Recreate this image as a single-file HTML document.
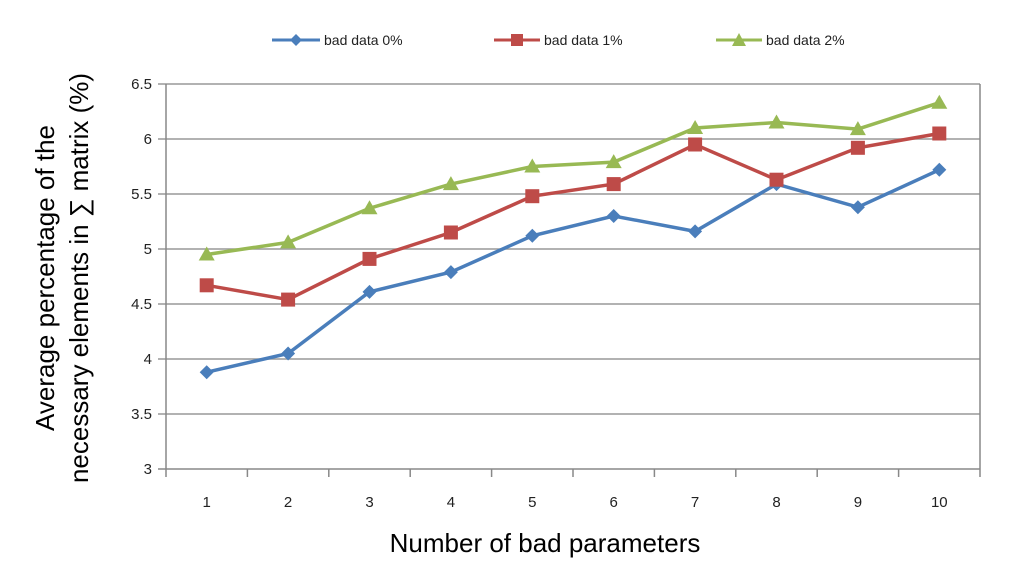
<!DOCTYPE html>
<html><head><meta charset="utf-8"><style>
body{margin:0;background:#fff;width:1024px;height:576px;overflow:hidden}
svg{font-family:"Liberation Sans",sans-serif}
</style></head><body>
<svg id="chart" width="1024" height="576">
<g id="grid"></g><g id="series"></g>
<g>
 <g><line x1="272" y1="40" x2="320" y2="40" stroke="#4a7ebb" stroke-width="3"/><path d="M296 34 L302 40 L296 46 L290 40Z" fill="#4a7ebb"/><text x="324" y="45" font-size="14" fill="#222">bad data 0%</text></g>
 <g><line x1="494" y1="40" x2="540" y2="40" stroke="#be4b48" stroke-width="3"/><rect x="511" y="34" width="12" height="12" fill="#be4b48"/><text x="544" y="45" font-size="14" fill="#222">bad data 1%</text></g>
 <g><line x1="716" y1="40" x2="762" y2="40" stroke="#98b954" stroke-width="3"/><path d="M739 33 L746 46 L732 46Z" fill="#98b954"/><text x="766" y="45" font-size="14" fill="#222">bad data 2%</text></g>
</g>
<text x="545" y="552" font-size="26" text-anchor="middle" fill="#000">Number of bad parameters</text>
<text transform="translate(54,278) rotate(-90)" font-size="26" text-anchor="middle" fill="#000"><tspan x="0" dy="0">Average percentage of the</tspan><tspan x="0" dy="34">necessary elements in ∑ matrix (%)</tspan></text>
</svg>
<script>
const categories=["1","2","3","4","5","6","7","8","9","10"];
const bad0=[3.88,4.05,4.61,4.79,5.12,5.30,5.16,5.59,5.38,5.72];
const bad1=[4.67,4.54,4.91,5.15,5.48,5.59,5.95,5.63,5.92,6.05];
const bad2=[4.95,5.06,5.37,5.59,5.75,5.79,6.10,6.15,6.09,6.33];
const yTicks=[3,3.5,4,4.5,5,5.5,6,6.5];
const yTickLabels=["3","3.5","4","4.5","5","5.5","6","6.5"];
const NS="http://www.w3.org/2000/svg";
const L=166,R=980,T=84,B=469,ymin=3,ymax=6.5;
const bw=(R-L)/categories.length;
const xs=i=>L+bw*(i+0.5);
const ys=v=>B-(v-ymin)/(ymax-ymin)*(B-T);
function mk(t,a,p){const e=document.createElementNS(NS,t);for(const k in a)e.setAttribute(k,a[k]);p.appendChild(e);return e;}
const g=document.getElementById('grid');
yTicks.forEach((v,i)=>{
 const y=ys(v);
 const ln=mk('line',{x1:L-8,x2:R,y1:y,y2:y,stroke:i===0?'#888':'#999','stroke-width':1.5},g);
 
 
 const t=mk('text',{x:L-14,y:y+5,'font-size':15,'text-anchor':'end',fill:'#222'},g);t.textContent=yTickLabels[i];
 
 
});
mk('line',{x1:L,x2:L,y1:T,y2:B,stroke:'#888','stroke-width':1.5},g);
mk('line',{x1:R,x2:R,y1:T,y2:B,stroke:'#888','stroke-width':1.5},g);
for(let i=0;i<=categories.length;i++){mk('line',{x1:L+bw*i,x2:L+bw*i,y1:B,y2:B+8,stroke:'#888','stroke-width':1.5},g);}
categories.forEach((c,i)=>{const t=mk('text',{x:xs(i),y:B+38,'font-size':15,'text-anchor':'middle',fill:'#222'},g);t.textContent=c;
 
 });
const s=document.getElementById('series');
[[bad0,'#4a7ebb','d'],[bad1,'#be4b48','s'],[bad2,'#98b954','t']].forEach(([d,col,m],k)=>{
 const pl=mk('polyline',{points:d.map((v,i)=>xs(i)+','+ys(v)).join(' '),fill:'none',stroke:col,'stroke-width':3.5},s);
 
 
 d.forEach((v,i)=>{const x=xs(i),y=ys(v);let e;
  if(m==='d')e=mk('path',{d:`M${x} ${y-7}L${x+7} ${y}L${x} ${y+7}L${x-7} ${y}Z`,fill:col},s);
  else if(m==='s')e=mk('rect',{x:x-7,y:y-7,width:14,height:14,fill:col},s);
  else e=mk('path',{d:`M${x} ${y-8}L${x+8} ${y+6}L${x-8} ${y+6}Z`,fill:col},s);
  
  });
});
</script>
</body></html>
